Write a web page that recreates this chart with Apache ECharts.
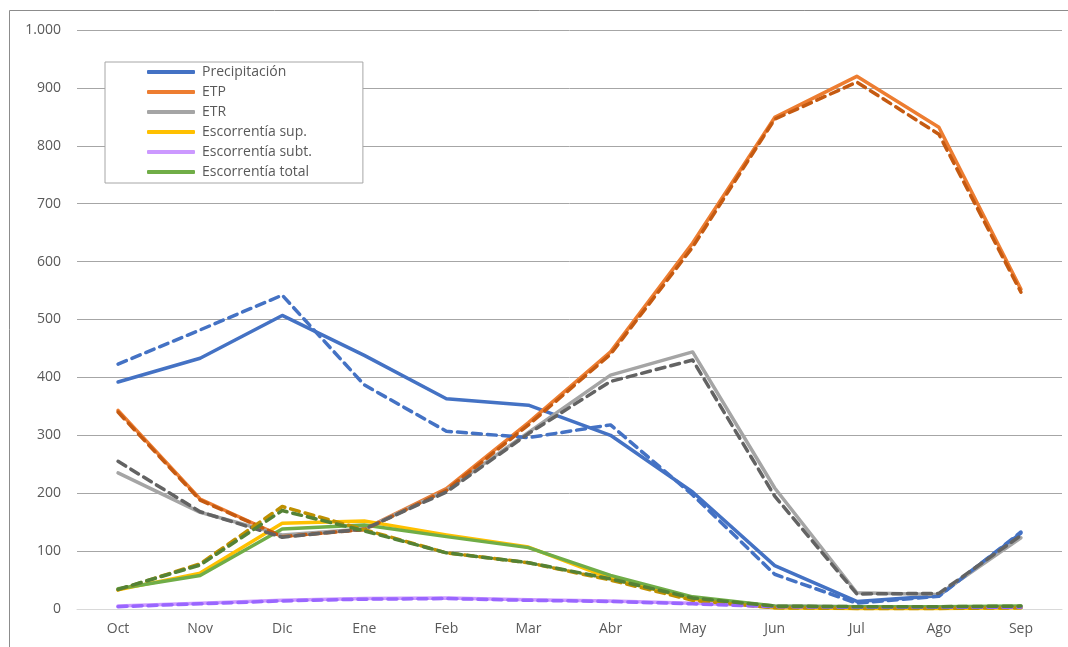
<!DOCTYPE html>
<html>
<head>
<meta charset="utf-8">
<script src="https://cdn.jsdelivr.net/npm/echarts@6/dist/echarts.min.js"></script>
<style>
  html, body { margin: 0; padding: 0; background: #ffffff; }
  #chart { width: 1068px; height: 647px; }
</style>
</head>
<body>
<div id="chart"></div>
<script>
// Monthly water balance (hydrological year Oct–Sep), mm
const months = ['Oct', 'Nov', 'Dic', 'Ene', 'Feb', 'Mar', 'Abr', 'May', 'Jun', 'Jul', 'Ago', 'Sep'];

// Solid lines
const precipitacion = [392, 433, 507, 438, 363, 352, 300, 202, 75, 13, 23, 131];
const etp = [343, 190, 125, 138, 208, 322, 444, 632, 849, 920, 832, 552];
const etr = [235, 167, 128, 138, 205, 305, 404, 444, 209, 28, 25, 123];
const escSup = [33, 62, 148, 152, 128, 107, 53, 17, 2, 1, 1, 2];
const escSubt = [5, 10, 15, 18, 19, 16, 14, 10, 5, 4, 4, 4];
const escTotal = [35, 58, 138, 145, 125, 106, 58, 21, 5, 4, 4, 5];

// Dashed lines (second scenario)
const precipitacion2 = [423, 482, 542, 387, 307, 296, 318, 197, 60, 10, 22, 133];
const etp2 = [340, 188, 125, 137, 205, 318, 440, 625, 846, 910, 820, 547];
const etr2 = [255, 168, 124, 138, 202, 303, 393, 430, 195, 26, 27, 127];
const escSup2 = [33, 78, 177, 137, 97, 80, 50, 15, 2, 1, 1, 2];
const escSubt2 = [4, 9, 14, 17, 18, 15, 13, 9, 4, 3, 3, 3];
const escTotal2 = [34, 76, 170, 135, 97, 80, 52, 19, 5, 4, 4, 5];

const yTicks = { min: 0, max: 1000, interval: 100 };

const FONT = 'Open Sans';
const TEXT = '#595959';

function line(name, data, color, dashed) {
  return {
    name: name,
    type: 'line',
    data: data,
    showSymbol: false,
    symbol: 'none',
    silent: true,
    animation: false,
    lineStyle: {
      color: color,
      width: 3.5,
      type: dashed ? [9, 6] : 'solid',
      cap: 'round',
      join: 'round'
    },
    itemStyle: { color: color }
  };
}

const series = [
  line('Precipitación', precipitacion, '#4472C4', false),
  line('ETP', etp, '#ED7D31', false),
  line('ETR', etr, '#A5A5A5', false),
  line('Escorrentía sup.', escSup, '#FFC000', false),
  line('Escorrentía subt.', escSubt, '#CC99FF', false),
  line('Escorrentía total', escTotal, '#70AD47', false),
  line('Precipitación (2)', precipitacion2, '#4472C4', true),
  line('ETP (2)', etp2, '#C55A11', true),
  line('ETR (2)', etr2, '#636363', true),
  line('Escorrentía sup. (2)', escSup2, '#BF9000', true),
  line('Escorrentía subt. (2)', escSubt2, '#9966FF', true),
  line('Escorrentía total (2)', escTotal2, '#548235', true)
];

const chart = echarts.init(document.getElementById('chart'), null, { renderer: 'canvas' });
chart.setOption({
  backgroundColor: '#ffffff',
  animation: false,
  textStyle: { fontFamily: FONT },
  graphic: [{
    type: 'rect',
    shape: { x: 9.5, y: 10.5, width: 1200, height: 800 },
    style: { fill: null, stroke: '#8c8c8c', lineWidth: 1 },
    silent: true,
    z: 0
  }],
  grid: { left: 77, right: 6, top: 30, bottom: 38, containLabel: false },
  legend: {
    data: ['Precipitación', 'ETP', 'ETR', 'Escorrentía sup.', 'Escorrentía subt.', 'Escorrentía total'],
    orient: 'vertical',
    left: 105,
    top: 62,
    padding: [2, 51, 3, 42],
    itemGap: 4,
    itemWidth: 48,
    itemHeight: 4,
    icon: 'roundRect',
    backgroundColor: '#ffffff',
    borderColor: '#a6a6a6',
    borderWidth: 1,
    borderRadius: 0,
    selectedMode: false,
    textStyle: { color: TEXT, fontSize: 14, fontFamily: FONT, lineHeight: 16, padding: [0, 0, 0, 2] }
  },
  xAxis: {
    type: 'category',
    data: months,
    boundaryGap: true,
    axisLine: { show: true, lineStyle: { color: '#d9d9d9', width: 1 } },
    axisTick: { show: false },
    axisLabel: { color: TEXT, fontSize: 14, fontFamily: FONT, margin: 13 },
    splitLine: { show: false }
  },
  yAxis: {
    type: 'value',
    min: yTicks.min,
    max: yTicks.max,
    interval: yTicks.interval,
    axisLine: { show: false },
    axisTick: { show: false },
    axisLabel: {
      color: TEXT,
      fontSize: 14,
      fontFamily: FONT,
      margin: 16,
      formatter: function (v) {
        return v >= 1000 ? String(v).replace(/\B(?=(\d{3})+(?!\d))/g, '.') : String(v);
      }
    },
    splitLine: { show: true, lineStyle: { color: '#a6a6a6', width: 1 } }
  },
  series: series
});
</script>
</body>
</html>
